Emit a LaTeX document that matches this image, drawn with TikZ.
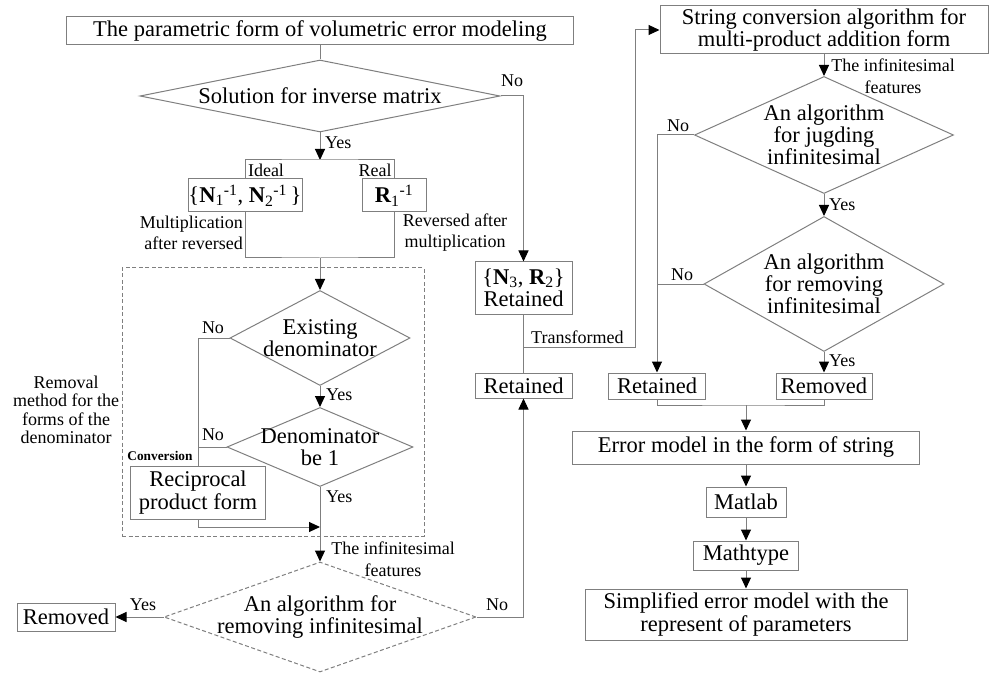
\documentclass[tikz,border=0pt]{standalone}
\usepackage{fontspec}
\setmainfont{Liberation Serif}
\usetikzlibrary{shapes.geometric,arrows.meta,calc}
\definecolor{ln}{HTML}{7F7F7F}
\tikzset{
 box/.style={draw=ln, line width=1pt, inner sep=0pt, align=center, font=\fontsize{22.5}{22.5}\selectfont},
 dia/.style={diamond, draw=ln, line width=1pt, inner sep=0pt},
 ddia/.style={dia, dash pattern=on 4pt off 2.5pt},
 dtext/.style={align=center, inner sep=0pt, font=\fontsize{22.5}{22}\selectfont},
 lab/.style={inner sep=0pt, align=center, font=\fontsize{18}{21}\selectfont},
 conn/.style={draw=ln, line width=1pt},
 arr/.style={conn, -{Triangle[length=11pt,width=10pt,color=black]}},
}
\begin{document}
\begin{tikzpicture}[x=1pt,y=-1pt]
\useasboundingbox (0,0) rectangle (990,676);
% ---------- left column ----------
\node[box, minimum width=507pt, minimum height=28pt] (top) at (320,31) {The parametric form of volumetric error modeling};
\node[dia, minimum width=360pt, minimum height=72pt] (d1) at (320,96) {};
\node[dtext] (d1t) at (d1) {Solution for inverse matrix};
\node[box, minimum width=114pt, minimum height=33pt] (nbox) at (245,195.5) {\{\textbf{N}\textsubscript{1}\textsuperscript{-1}, \textbf{N}\textsubscript{2}\textsuperscript{-1}\,\}};
\node[box, minimum width=64pt, minimum height=33pt] (rbox) at (394,195.5) {\textbf{R}\textsubscript{1}\textsuperscript{-1}};
\coordinate (brt) at (320,160);
\coordinate (brb) at (320,258);
\node[draw=ln, line width=1pt, dash pattern=on 4pt off 2.5pt, minimum width=302pt, minimum height=268pt, inner sep=0pt] (dbox) at (273,402) {};
\node[dia, minimum width=180pt, minimum height=95pt] (d2) at (320,338) {};
\node[dtext] (d2t) at (d2) {Existing\\denominator};
\node[dia, minimum width=186pt, minimum height=79pt] (d3) at (320,447) {};
\node[dtext] (d3t) at (d3) {Denominator\\be 1};
\node[box, minimum width=135pt, minimum height=53pt] (rec) at (198,492.5) {Reciprocal\\product form};
\coordinate (recj) at (320,527);
\node[ddia, minimum width=312pt, minimum height=110pt] (d4) at (320,617) {};
\node[dtext] (d4t) at (d4) {An algorithm for\\removing infinitesimal};
\node[box, minimum width=98pt, minimum height=28pt] (rem1) at (66,617) {Removed};
% ---------- middle ----------
\node[box, minimum width=97pt, minimum height=52pt] (n3) at (523.5,288) {\{\textbf{N}\textsubscript{3}, \textbf{R}\textsubscript{2}\}\\Retained};
\node[box, minimum width=97pt, minimum height=25pt] (ret1) at (523.5,385.5) {Retained};
\coordinate (tj) at (523.5,347);
\coordinate (tr) at (635,347);
% ---------- right column ----------
\node[box, minimum width=328pt, minimum height=48pt] (sbox) at (824,30) {String conversion algorithm for\\multi-product addition form};
\node[dia, minimum width=259pt, minimum height=117pt] (d5) at (824,135) {};
\node[dtext] (d5t) at (d5) {An algorithm\\for jugding\\infinitesimal};
\node[dia, minimum width=240pt, minimum height=135pt] (d6) at (824,284) {};
\node[dtext] (d6t) at (d6) {An algorithm\\for removing\\infinitesimal};
\node[box, minimum width=97pt, minimum height=26pt] (ret2) at (657,386) {Retained};
\node[box, minimum width=96pt, minimum height=26pt] (rem2) at (824,386) {Removed};
\coordinate (bj) at (746,405);
\node[box, minimum width=347pt, minimum height=33pt] (err) at (746,447.5) {Error model in the form of string};
\node[box, minimum width=80pt, minimum height=30pt] (mat) at (746,502) {Matlab};
\node[box, minimum width=105pt, minimum height=29pt] (mty) at (746,555.5) {Mathtype};
\node[box, minimum width=322pt, minimum height=51pt] (sim) at (746,614.5) {Simplified error model with the\\represent of parameters};
% ---------- connectors ----------
\draw[conn] (top.south) -- (d1.north);
\draw[arr] (d1.east) -| (n3.north);
\draw[arr] (d1.south) -- (brt);
\draw[conn] (nbox.north) |- (brt) -| (rbox.north);
\draw[conn] (nbox.south) |- (brb) -| (rbox.south);
\draw[arr] (brb) -- (d2.north);
\draw[conn] (d2.west) -| (rec.north);
\draw[conn] (d3.west) -- (d3.west -| rec.north);
\draw[arr] (d2.south) -- (d3.north);
\draw[arr] (d3.south) -- (d4.north);
\draw[arr] (rec.south) |- (recj);
\draw[arr] (d4.west) -- (rem1.east);
\draw[arr] (d4.east) -| (ret1.south);
\draw[conn] (n3.south) -- (ret1.north);
\draw[arr] (tj) -- (tr) |- (sbox.west);
\draw[arr] (sbox.south) -- (d5.north);
\draw[arr] (d5.south) -- (d6.north);
\draw[arr] (d6.south) -- (rem2.north);
\draw[arr] (d5.west) -| (ret2.north);
\draw[conn] (d6.west) -- (d6.west -| ret2.north);
\draw[conn] (ret2.south) |- (bj) -| (rem2.south);
\draw[arr] (bj) -- (err.north);
\draw[arr] (err.south) -- (mat.north);
\draw[arr] (mat.south) -- (mty.north);
\draw[arr] (mty.south) -- (sim.north);
% ---------- labels ----------
\node[lab] (l1) at (512,81) {No};
\node[lab, anchor=west] (l2) at (325,143) {Yes};
\node[lab] (l3) at (266,170) {Ideal};
\node[lab] (l4) at (375,170) {Real};
\node[lab, anchor=east, align=right] (l5) at (243,233) {Multiplication\\after reversed};
\node[lab] (l6) at (455,233) {Reversed after\\multiplication};
\node[lab] (l7) at (213,328) {No};
\node[lab, anchor=west] (l8) at (326,395) {Yes};
\node[lab] (l9) at (213,435) {No};
\node[lab, anchor=west] (l10) at (326,497) {Yes};
\node[inner sep=0pt, font=\fontsize{13.3}{14}\selectfont\bfseries] (l11) at (160,456) {Conversion};
\node[lab, font=\fontsize{18}{18.5}\selectfont] (l12) at (66,410) {Removal\\method for the\\forms of the\\denominator};
\node[lab, font=\fontsize{18}{22}\selectfont] (l13) at (393,559) {The infinitesimal\\features};
\node[lab] (l14) at (143,605) {Yes};
\node[lab] (l15) at (497,605) {No};
\node[lab, anchor=west] (l16) at (531,337) {Transformed};
\node[lab, font=\fontsize{18}{22}\selectfont] (l17) at (893,76) {The infinitesimal\\features};
\node[lab] (l18) at (678,126) {No};
\node[lab, anchor=west] (l19) at (829,205) {Yes};
\node[lab] (l20) at (682,275) {No};
\node[lab, anchor=west] (l21) at (829,361) {Yes};
\end{tikzpicture}
\end{document}
